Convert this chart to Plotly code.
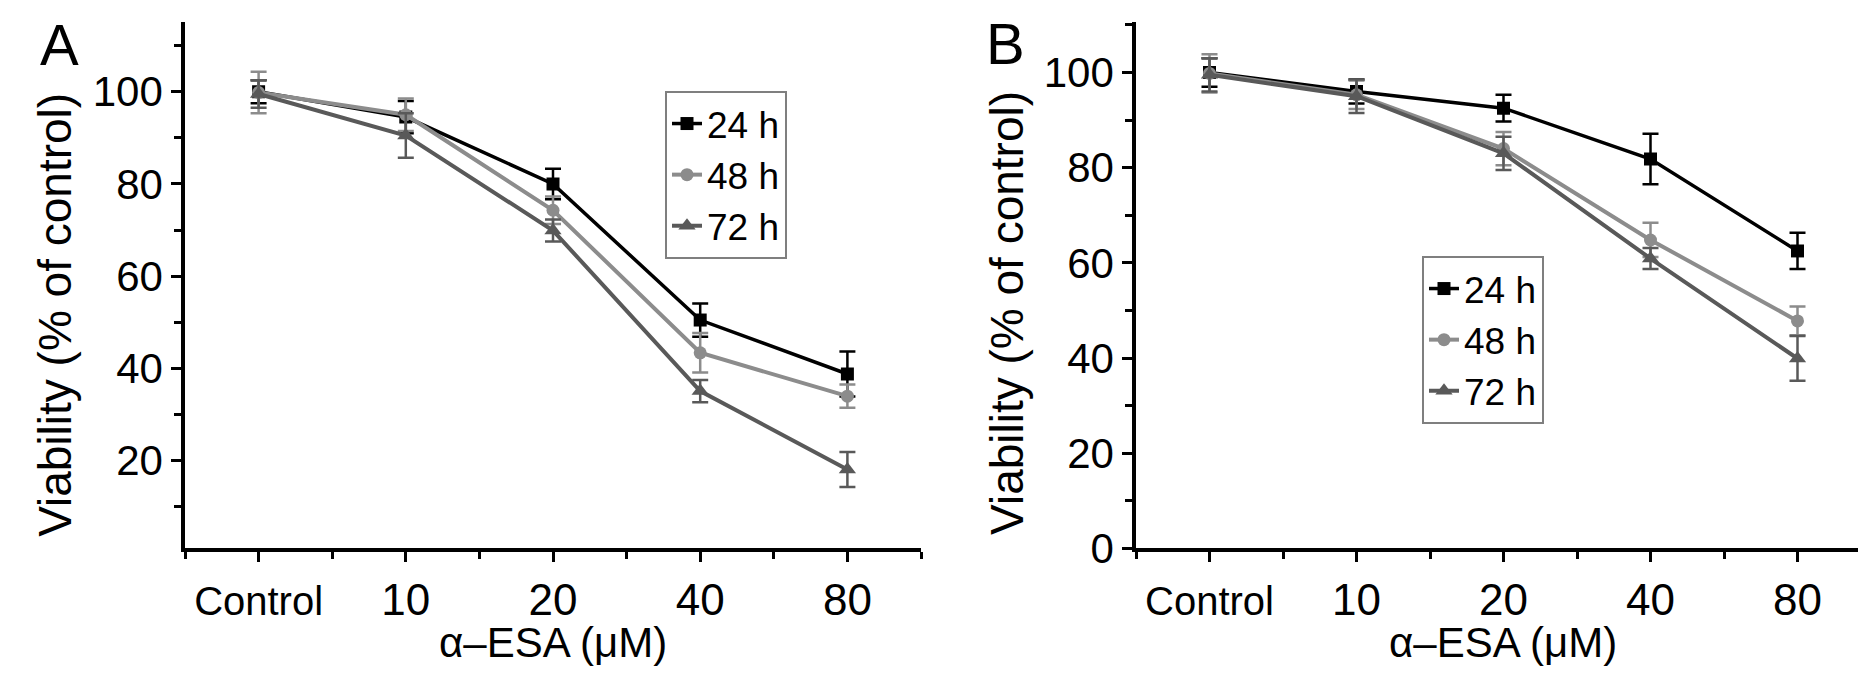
import plotly.graph_objects as go

W, H = 1866, 685

# categories on the x axis
doses = ["Control", "10", "20", "40", "80"]
series_names = ["24 h", "48 h", "72 h"]

# panel A, viability (% of control) and error bars
a_24h = [100.0, 94.5, 80.0, 50.5, 38.8]
a_24h_err = [2.5, 3.5, 3.3, 3.6, 4.9]
a_48h = [99.8, 95.0, 74.3, 43.4, 34.0]
a_48h_err = [4.5, 3.5, 3.0, 4.3, 2.5]
a_72h = [99.5, 90.5, 69.9, 35.1, 18.1]
a_72h_err = [3.0, 4.8, 2.4, 2.4, 3.8]

# panel B
b_24h = [100.0, 96.0, 92.5, 81.8, 62.5]
b_24h_err = [3.0, 2.5, 2.8, 5.3, 3.8]
b_48h = [99.8, 95.3, 84.0, 64.8, 47.8]
b_48h_err = [4.0, 3.0, 3.5, 3.6, 3.0]
b_72h = [99.5, 95.0, 83.0, 60.9, 39.9]
b_72h_err = [3.5, 3.5, 3.5, 2.2, 4.7]

colors = ["#000000", "#8c8c8c", "#595959"]
symbols = ["square", "circle", "triangle-up"]
widths = [3.5, 4, 4]
msizes = [13, 13, 15]
FONT = "Arial, Liberation Sans, sans-serif"


def px_x(v):
    return v / W


def px_y(v):
    return 1 - v / H


fig = go.Figure()

panels = [
    ("x", "y", "legend", [a_24h, a_48h, a_72h], [a_24h_err, a_48h_err, a_72h_err]),
    ("x2", "y2", "legend2", [b_24h, b_48h, b_72h], [b_24h_err, b_48h_err, b_72h_err]),
]
xpos = list(range(len(doses)))
for xa, ya, leg, vals, errs in panels:
    for i in range(3):
        fig.add_trace(go.Scatter(
            x=xpos, y=vals[i], name=series_names[i], xaxis=xa, yaxis=ya, legend=leg,
            mode="lines+markers",
            line=dict(color=colors[i], width=widths[i]),
            marker=dict(symbol=symbols[i], size=msizes[i], color=colors[i]),
            error_y=dict(type="data", array=errs[i], color=colors[i], thickness=2.5, width=8),
        ))

# "Control" a bit smaller than the dose numbers
x_ticktext = [f'<span style="font-size:40px">{doses[0]}</span>'] + doses[1:]

xaxis_common = dict(
    range=[-0.5, 4.5], tickvals=xpos, ticktext=x_ticktext,
    showline=True, linecolor="black", linewidth=3.5, mirror=False,
    ticks="outside", ticklen=10, tickwidth=3, tickcolor="black",
    minor=dict(tick0=-0.5, dtick=0.5, ticks="outside", ticklen=7, tickwidth=3, tickcolor="black"),
    showgrid=False, zeroline=False,
    tickfont=dict(family=FONT, size=44, color="black"),
)
yaxis_common = dict(
    showline=True, linecolor="black", linewidth=3.5,
    ticks="outside", ticklen=10, tickwidth=3, tickcolor="black", dtick=20,
    minor=dict(dtick=10, ticks="outside", ticklen=7, tickwidth=3, tickcolor="black"),
    showgrid=False, zeroline=False,
    tickfont=dict(family=FONT, size=42, color="black"),
)

legend_common = dict(xanchor="left", yanchor="top", bordercolor="#7f7f7f", borderwidth=2,
                     bgcolor="white", font=dict(family=FONT, size=37, color="black"))

y_dom = [px_y(560), px_y(15)]
fig.update_layout(
    width=W, height=H,
    margin=dict(l=0, r=0, t=0, b=0),
    paper_bgcolor="white", plot_bgcolor="white",
    xaxis=dict(domain=[px_x(177), px_x(913)], anchor="y", **xaxis_common),
    yaxis=dict(domain=y_dom, anchor="x", range=[1, 115], tick0=0, **yaxis_common),
    xaxis2=dict(domain=[px_x(1128), px_x(1863)], anchor="y2", **xaxis_common),
    yaxis2=dict(domain=y_dom, anchor="x2", range=[0, 110.5], tick0=0, **yaxis_common),
    legend=dict(x=px_x(657), y=px_y(86), **legend_common),
    legend2=dict(x=px_x(1414), y=px_y(257), **legend_common),
    showlegend=True,
)

# panel letters and axis titles
notes = [
    ("A", 51, 38, 58, 0),
    ("B", 997, 37, 58, 0),
    ("Viability (% of control)", 47, 318, 46, -90),
    ("Viability (% of control)", 999, 316, 46, -90),
    ("α–ESA (μM)", 545, 658, 42, 0),
    ("α–ESA (μM)", 1495, 658, 42, 0),
]
for text, x, y, size, ang in notes:
    fig.add_annotation(text=text, x=px_x(x), y=px_y(y), xref="paper", yref="paper",
                       showarrow=False, xanchor="center", yanchor="middle", textangle=ang,
                       font=dict(family=FONT, size=size, color="black"))

fig.write_html("out.html")
